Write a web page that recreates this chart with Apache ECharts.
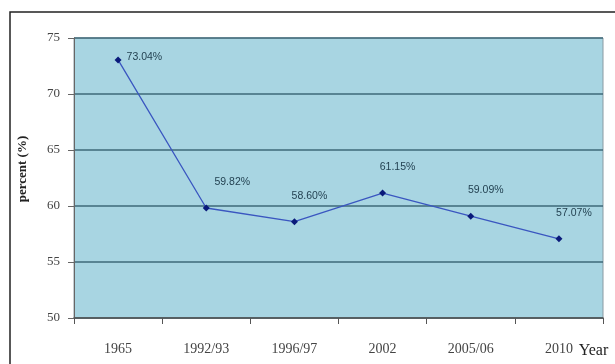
<!DOCTYPE html>
<html>
<head>
<meta charset="utf-8">
<script src="https://cdn.jsdelivr.net/npm/echarts@6/dist/echarts.min.js"></script>
<style>
  html, body { margin: 0; padding: 0; background: #fff; }
  #container { width: 615px; height: 364px; }
</style>
</head>
<body>
<div id="container"></div>
<script>
var years = ['1965', '1992/93', '1996/97', '2002', '2005/06', '2010'];
var percent = [73.04, 59.82, 58.60, 61.15, 59.09, 57.07];
var yTicks = [50, 55, 60, 65, 70, 75];

var dom = document.getElementById('container');
var myChart = echarts.init(dom, null, { renderer: 'canvas' });

// label placement: first one sits to the right, the rest above-right
var points = percent.map(function (v, i) {
  var item = { value: v };
  if (i === 0) {
    item.label = { position: 'right', offset: [0, -3] };
  } else if (i === 1) {
    item.label = { offset: [26, -12] };
  }
  return item;
});

var option = {
  animation: false,
  backgroundColor: '#fff',
  graphic: [{
    type: 'rect',
    shape: { x: 10, y: 12, width: 640, height: 400 },
    style: { fill: 'none', stroke: '#222', lineWidth: 1.5 },
    z: -10
  }],
  grid: {
    left: 74, top: 38, right: 12, bottom: 46,
    show: true,
    backgroundColor: '#a8d5e2',
    borderColor: '#8a9aa2',
    borderWidth: 1
  },
  xAxis: {
    type: 'category',
    data: years,
    boundaryGap: true,
    name: 'Year',
    nameLocation: 'end',
    nameGap: -30,
    nameTextStyle: {
      fontFamily: 'Liberation Serif',
      fontSize: 16,
      color: '#222',
      verticalAlign: 'top',
      padding: [25, 0, 0, 0]
    },
    axisLine: { lineStyle: { color: '#555', width: 1.5 } },
    axisTick: { show: true, length: 6, lineStyle: { color: '#555' } },
    axisLabel: {
      margin: 24,
      fontFamily: 'Liberation Serif',
      fontSize: 14,
      color: '#444'
    },
    splitLine: { show: false }
  },
  yAxis: {
    type: 'value',
    min: yTicks[0],
    max: yTicks[yTicks.length - 1],
    interval: 5,
    name: 'percent (%)',
    nameLocation: 'middle',
    nameGap: 45,
    nameTextStyle: {
      fontFamily: 'Liberation Serif',
      fontWeight: 'bold',
      fontSize: 13,
      color: '#222',
      padding: [0, 0, 0, 18]
    },
    axisLine: { show: true, lineStyle: { color: '#666' } },
    axisTick: { show: true, length: 6, lineStyle: { color: '#666' } },
    axisLabel: {
      margin: 14,
      fontFamily: 'Liberation Serif',
      fontSize: 13,
      color: '#444'
    },
    splitLine: { show: true, lineStyle: { color: '#3e6878', width: 1.5 } }
  },
  series: [{
    type: 'line',
    data: points,
    symbol: 'diamond',
    symbolSize: 7,
    itemStyle: { color: '#0a1a7a' },
    lineStyle: { color: '#3a56c0', width: 1.3 },
    label: {
      show: true,
      position: 'top',
      offset: [15, -12],
      formatter: function (p) { return p.value.toFixed(2) + '%'; },
      fontFamily: 'Liberation Sans',
      fontSize: 10.5,
      color: '#1f3d4d'
    }
  }]
};

myChart.setOption(option);
</script>
</body>
</html>
